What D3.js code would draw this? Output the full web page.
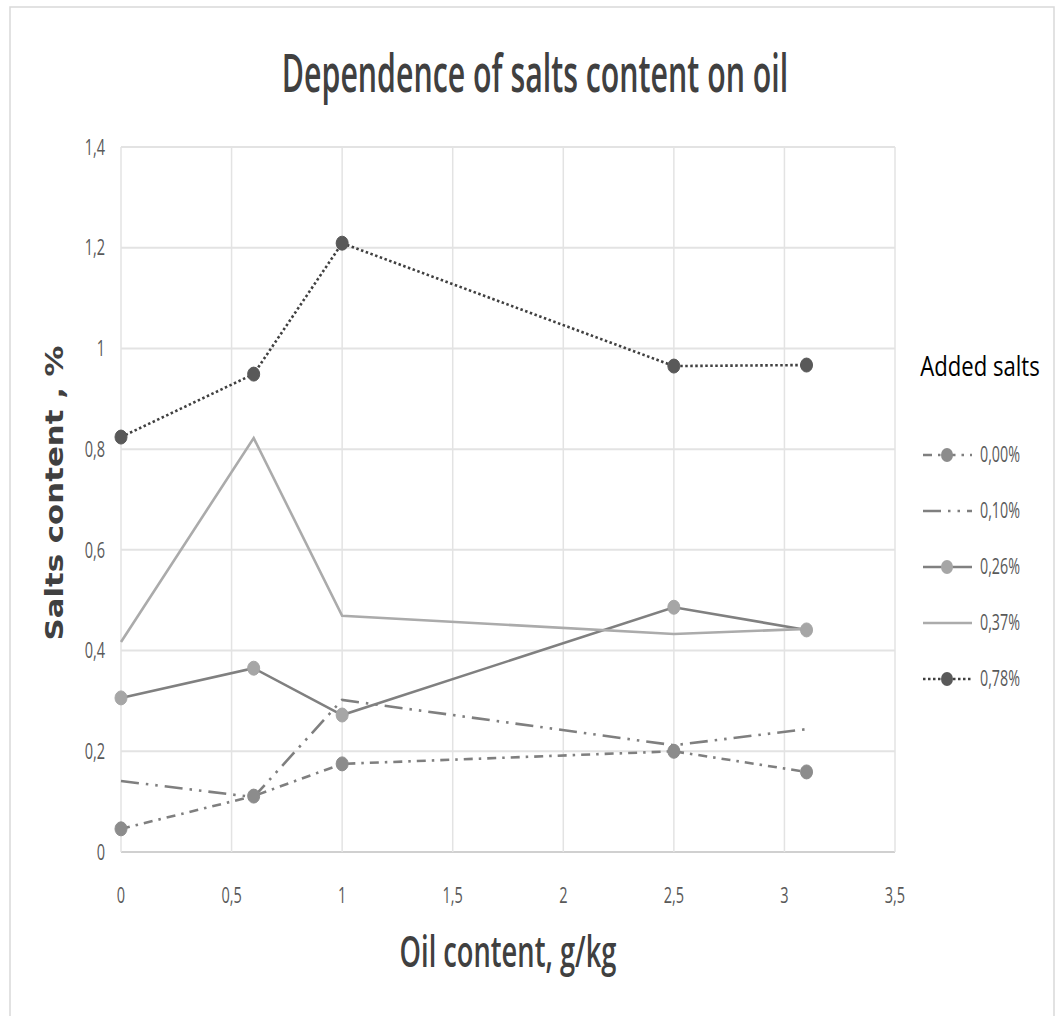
<!DOCTYPE html>
<html>
<head>
<meta charset="utf-8">
<script src="https://cdn.jsdelivr.net/npm/d3@7"></script>
<style>
  body { margin: 0; background: #fff; }
  svg { display: block; }
</style>
</head>
<body>
<svg width="1056" height="1016"></svg>
<script>
// data
const oilContent = [0, 0.6, 1, 2.5, 3.1];
const seriesNames = ["0,00%", "0,10%", "0,26%", "0,37%", "0,78%"];
const salts000 = [0.046, 0.111, 0.175, 0.200, 0.159];
const salts010 = [0.141, 0.109, 0.302, 0.212, 0.244];
const salts026 = [0.306, 0.365, 0.272, 0.486, 0.441];
const salts037 = [0.417, 0.822, 0.469, 0.433, 0.443];
const salts078 = [0.824, 0.949, 1.209, 0.965, 0.967];
const xTicks = [0, 0.5, 1, 1.5, 2, 2.5, 3, 3.5];
const xTickLabels = ["0", "0,5", "1", "1,5", "2", "2,5", "3", "3,5"];
const yTicks = [0, 0.2, 0.4, 0.6, 0.8, 1, 1.2, 1.4];
const yTickLabels = ["0", "0,2", "0,4", "0,6", "0,8", "1", "1,2", "1,4"];

const series = [
  { name: seriesNames[0], values: salts000, stroke: "#7f7f7f", dash: "9,6,2.5,6", marker: "#8c8c8c" },
  { name: seriesNames[1], values: salts010, stroke: "#7f7f7f", dash: "18,7,2.5,7,2.5,7", marker: null },
  { name: seriesNames[2], values: salts026, stroke: "#808080", dash: null, marker: "#a6a6a6" },
  { name: seriesNames[3], values: salts037, stroke: "#ababab", dash: null, marker: null },
  { name: seriesNames[4], values: salts078, stroke: "#404040", dash: "2.5,2.5", marker: "#595959" }
];

const svg = d3.select("svg");
const font = "'Open Sans', sans-serif";

// narrow text: draw at a normal size and squeeze it sideways
const narrowText = (parent, tx, ty, sx, txt) =>
  parent.append("text")
    .attr("transform", `translate(${tx},${ty}) scale(${sx},1)`)
    .attr("font-family", font)
    .text(txt);

// outer frame
svg.append("rect")
  .attr("x", 10).attr("y", 7)
  .attr("width", 1044).attr("height", 1020)
  .attr("fill", "#fff")
  .attr("stroke", "#d9d9d9")
  .attr("stroke-width", 1.5);

const margin = { left: 121, top: 147, right: 161, bottom: 164 };
const width = 1056 - margin.left - margin.right;
const height = 1016 - margin.top - margin.bottom;

const x = d3.scaleLinear().domain([0, 3.5]).range([0, width]);
const y = d3.scaleLinear().domain([0, 1.4]).range([height, 0]);

const g = svg.append("g").attr("transform", `translate(${margin.left},${margin.top})`);

// gridlines
g.selectAll(".hgrid").data(yTicks).enter().append("line")
  .attr("x1", 0).attr("x2", width)
  .attr("y1", d => y(d)).attr("y2", d => y(d))
  .attr("stroke", d => d === 0 ? "#d0d0d0" : "#e3e3e3")
  .attr("stroke-width", 2);
g.selectAll(".vgrid").data(xTicks).enter().append("line")
  .attr("y1", 0).attr("y2", height)
  .attr("x1", d => x(d)).attr("x2", d => x(d))
  .attr("stroke", "#e3e3e3")
  .attr("stroke-width", 1.5);

// tick labels
yTicks.forEach((d, i) => {
  narrowText(g, -16, y(d), 0.66, yTickLabels[i])
    .attr("dy", "0.35em")
    .attr("text-anchor", "end")
    .attr("font-size", 22)
    .attr("fill", "#595959");
});
xTicks.forEach((d, i) => {
  narrowText(g, x(d), height + 51, 0.66, xTickLabels[i])
    .attr("text-anchor", "middle")
    .attr("font-size", 22)
    .attr("fill", "#595959");
});

// lines
const line = d3.line()
  .x((d, i) => x(oilContent[i]))
  .y(d => y(d));

series.forEach(s => {
  g.append("path")
    .datum(s.values)
    .attr("d", line)
    .attr("fill", "none")
    .attr("stroke", s.stroke)
    .attr("stroke-width", 2.6)
    .attr("stroke-dasharray", s.dash);
});
series.filter(s => s.marker).forEach(s => {
  g.selectAll(null).data(s.values).enter().append("ellipse")
    .attr("cx", (d, i) => x(oilContent[i]))
    .attr("cy", d => y(d))
    .attr("rx", 6).attr("ry", 7)
    .attr("fill", s.marker)
    .attr("stroke", s.marker)
    .attr("stroke-width", 1);
});

// titles
narrowText(svg, 535, 92, 0.583, "Dependence of salts content on oil")
  .attr("text-anchor", "middle")
  .attr("font-size", 52)
  .attr("font-weight", 600)
  .attr("fill", "#404040");

narrowText(svg, 508, 967, 0.62, "Oil content, g/kg")
  .attr("text-anchor", "middle")
  .attr("font-size", 44)
  .attr("font-weight", 600)
  .attr("fill", "#404040");

svg.append("text")
  .attr("transform", "translate(63,493) rotate(-90)")
  .attr("text-anchor", "middle")
  .attr("font-family", "'DejaVu Sans', sans-serif")
  .attr("font-weight", "bold")
  .attr("font-size", 25)
  .attr("textLength", 295)
  .attr("lengthAdjust", "spacingAndGlyphs")
  .attr("fill", "#404040")
  .text("Salts content , %");

// legend
const legend = svg.append("g");
narrowText(legend, 980, 376, 0.82, "Added salts")
  .attr("text-anchor", "middle")
  .attr("font-size", 27)
  .attr("fill", "#000");

const legendY = d3.scalePoint().domain(seriesNames).range([455, 679]);
series.forEach(s => {
  const ly = legendY(s.name);
  legend.append("line")
    .attr("x1", 923).attr("x2", 972)
    .attr("y1", ly).attr("y2", ly)
    .attr("stroke", s.stroke)
    .attr("stroke-width", 2.6)
    .attr("stroke-dasharray", s.dash);
  if (s.marker) {
    legend.append("ellipse")
      .attr("cx", 947).attr("cy", ly)
      .attr("rx", 6).attr("ry", 7)
      .attr("fill", s.marker);
  }
  narrowText(legend, 980, ly, 0.68, s.name)
    .attr("dy", "0.35em")
    .attr("font-size", 21)
    .attr("fill", "#595959");
});
</script>
</body>
</html>
